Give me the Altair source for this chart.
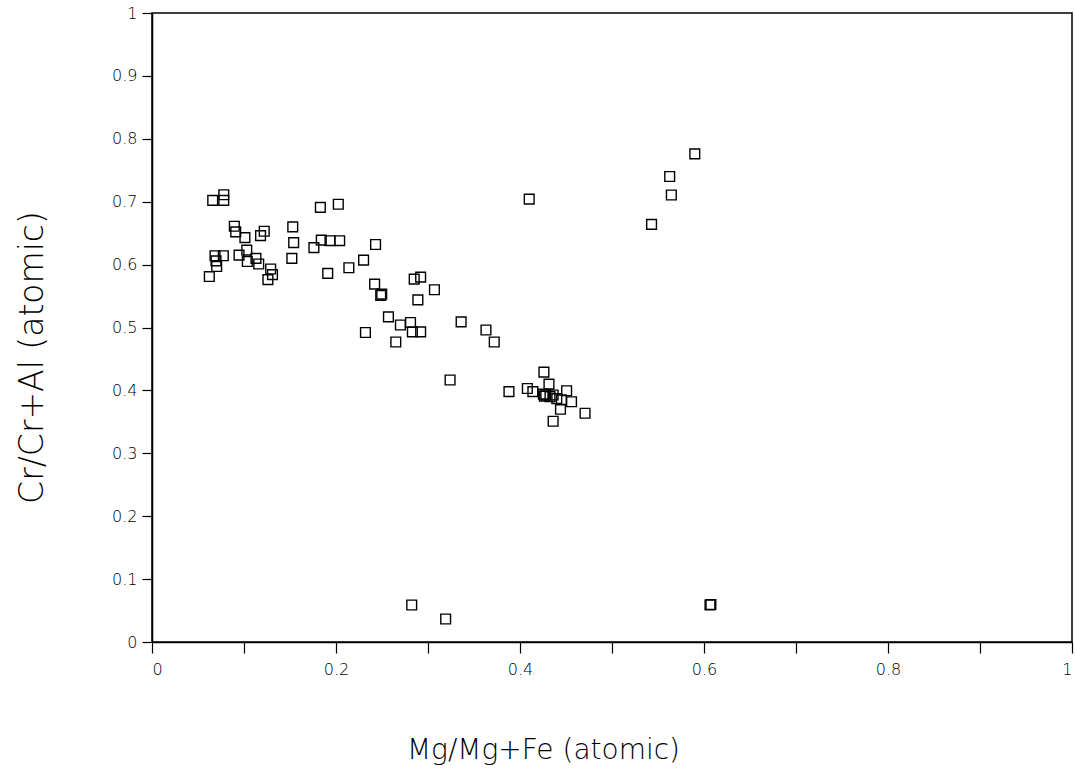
import altair as alt
import pandas as pd

# Mg/Mg+Fe (atomic)
mg_ratio = [
    0.066, 0.078, 0.078, 0.183, 0.2025, 0.0895, 0.091, 0.101, 0.122, 0.118,
    0.153, 0.154, 0.184, 0.1935, 0.204, 0.176, 0.243, 0.152, 0.230, 0.214,
    0.191, 0.0685, 0.0775, 0.0696, 0.0703, 0.0623, 0.0946, 0.103, 0.1036, 0.113,
    0.116, 0.129, 0.131, 0.126, 0.242, 0.2497, 0.2486, 0.257, 0.232, 0.265,
    0.270, 0.283, 0.292, 0.281, 0.285, 0.292, 0.289, 0.307, 0.336, 0.363,
    0.372, 0.324, 0.388, 0.408, 0.414, 0.426, 0.4315, 0.4254, 0.428, 0.436,
    0.440, 0.445, 0.4507, 0.456, 0.444, 0.436, 0.4707, 0.4326, 0.4265,
    0.2823, 0.3192, 0.6065, 0.6075,
    0.590, 0.5627, 0.5645, 0.543, 0.410,
]
# Cr/Cr+Al (atomic)
cr_ratio = [
    0.702, 0.711, 0.702, 0.691, 0.696, 0.661, 0.652, 0.643, 0.653, 0.646,
    0.660, 0.635, 0.639, 0.638, 0.638, 0.627, 0.632, 0.610, 0.607, 0.595,
    0.586, 0.614, 0.614, 0.606, 0.597, 0.581, 0.615, 0.623, 0.605, 0.610,
    0.601, 0.593, 0.584, 0.576, 0.569, 0.553, 0.551, 0.517, 0.492, 0.477,
    0.504, 0.493, 0.493, 0.508, 0.577, 0.580, 0.544, 0.560, 0.509, 0.496,
    0.477, 0.4165, 0.398, 0.403, 0.398, 0.429, 0.410, 0.394, 0.3927, 0.3927,
    0.387, 0.385, 0.3995, 0.382, 0.370, 0.351, 0.3636, 0.390, 0.391,
    0.0588, 0.0366, 0.0588, 0.0596,
    0.776, 0.740, 0.7107, 0.664, 0.704,
]

tick_values = [round(i / 10, 1) for i in range(11)]

df = pd.DataFrame({"mg": mg_ratio, "cr": cr_ratio})

FONT = "DejaVu Sans"

chart = (
    alt.Chart(df)
    .mark_point(shape="square", filled=False, color="black", size=95, strokeWidth=1.4, opacity=1)
    .encode(
        x=alt.X(
            "mg:Q",
            scale=alt.Scale(domain=[0, 1], nice=False, zero=False),
            axis=alt.Axis(
                title="Mg/Mg+Fe (atomic)",
                values=tick_values,
                labelExpr="round(datum.value*10) % 2 == 0 ? format(datum.value, '~g') : ''",
                tickSize=11,
                labelPadding=8,
                titleX=391,
                titleY=108,
                titleBaseline="middle",
                titleAnchor="middle",
                titleAlign="center",
                titleFontSize=28,
            ),
        ),
        y=alt.Y(
            "cr:Q",
            scale=alt.Scale(domain=[0, 1], nice=False, zero=False),
            axis=alt.Axis(
                title="Cr/Cr+Al (atomic)",
                values=tick_values,
                format="~g",
                tickSize=10,
                labelPadding=5,
                titleX=-120,
                titleY=344,
                titleAngle=270,
                titleBaseline="middle",
                titleAlign="center",
                titleFontSize=33,
            ),
        ),
    )
    .properties(
        width=920,
        height=629,
        autosize=alt.AutoSizeParams(type="none"),
        padding={"left": 152, "top": 13, "right": 3, "bottom": 127},
        background="white",
    )
    .configure_view(stroke="black", strokeWidth=1.5)
    .configure_axis(
        grid=False,
        domainColor="black",
        domainWidth=1.5,
        tickColor="black",
        tickWidth=1.2,
        labelColor="black",
        labelFont=FONT,
        labelFontSize=16,
        labelFontWeight=200,
        titleColor="black",
        titleFont=FONT,
        titleFontWeight=200,
    )
)

chart.save("out.html", embed_options={"renderer": "svg", "actions": False})
